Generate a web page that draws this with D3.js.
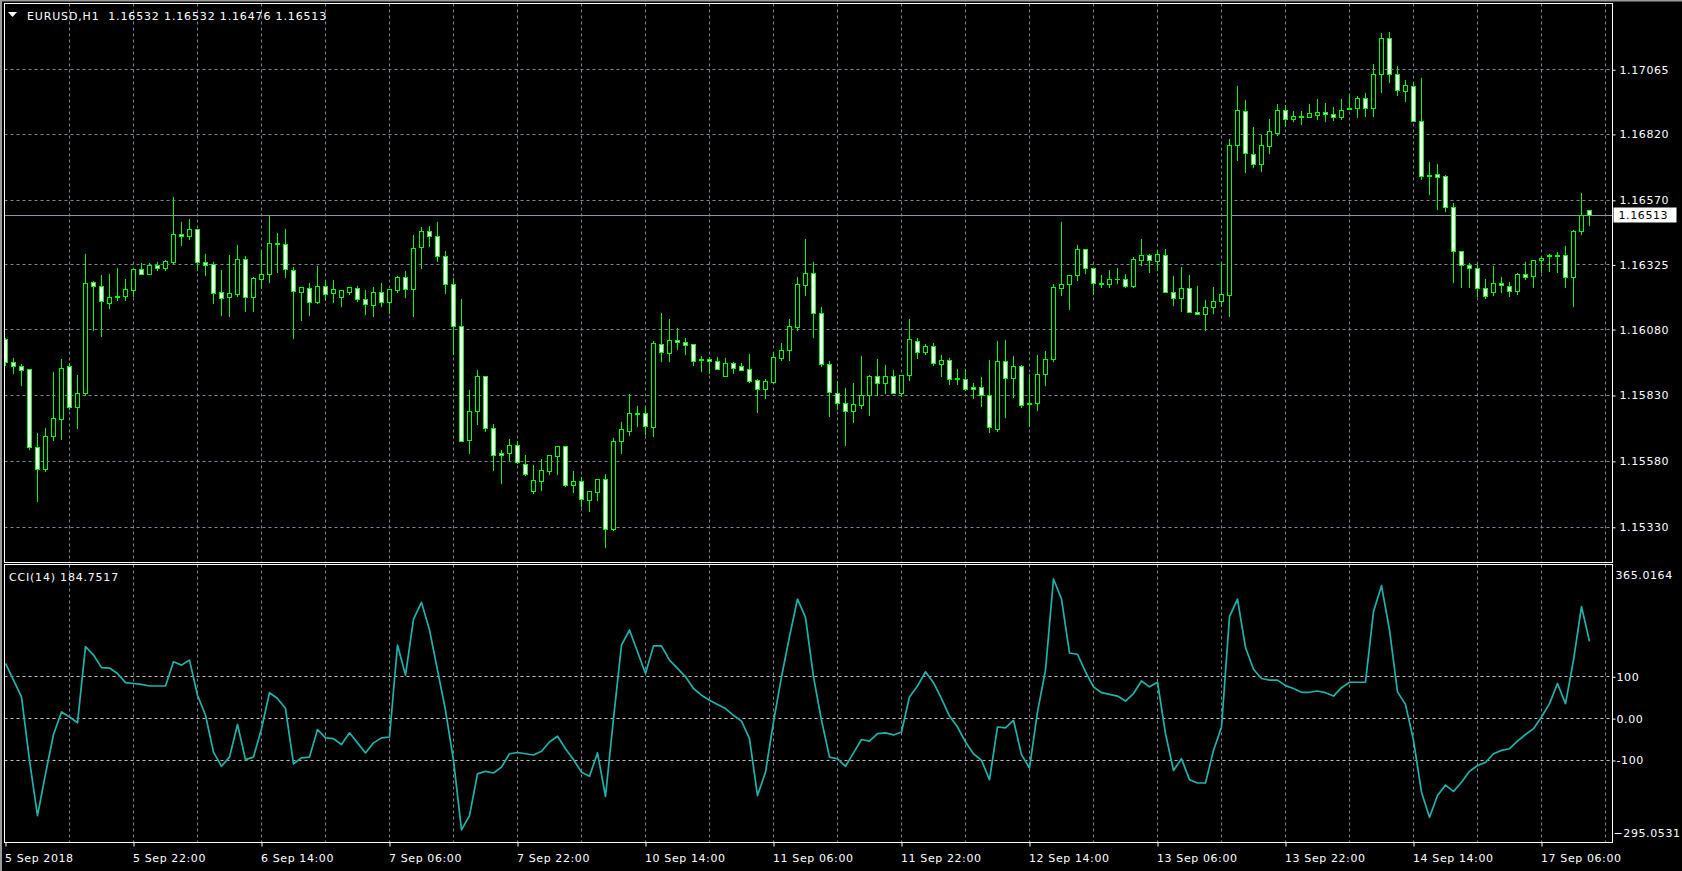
<!DOCTYPE html>
<html><head><meta charset="utf-8">
<script src="https://cdn.jsdelivr.net/npm/d3@7"></script>
<style>
body{margin:0;background:#000;overflow:hidden}
svg{display:block}
text{font-family:"DejaVu Sans",sans-serif;font-size:11px;letter-spacing:0.6px;fill:#fff}
</style>
</head><body>
<svg id="c" width="1682" height="871"></svg>
<script>
const symbol = "EURUSD,H1";
const open = [
1.16044,1.15955,1.15938,1.15927,1.15631,1.15550,1.15675,1.15739,1.15938,1.15785,
1.15839,1.16260,1.16245,1.16179,1.16202,1.16206,1.16228,1.16306,1.16289,1.16322,
1.16312,1.16334,1.16442,1.16433,1.16461,1.16334,1.16325,1.16222,1.16202,1.16213,
1.16347,1.16202,1.16270,1.16289,1.16408,1.16404,1.16302,1.16221,1.16237,1.16183,
1.16245,1.16215,1.16203,1.16221,1.16235,1.16193,1.16171,1.16222,1.16183,1.16228,
1.16279,1.16232,1.16391,1.16450,1.16431,1.16355,1.16249,1.16090,1.15661,1.15771,
1.15900,1.15703,1.15609,1.15608,1.15639,1.15567,1.15464,1.15504,1.15542,1.15599,
1.15635,1.15489,1.15502,1.15432,1.15463,1.15510,1.15320,1.15654,1.15695,1.15760,
1.15760,1.15709,1.16025,1.15989,1.16040,1.16029,1.16025,1.15966,1.15965,1.15957,
1.15902,1.15953,1.15938,1.15927,1.15885,1.15852,1.15878,1.15969,1.16001,1.16088,
1.16247,1.16294,1.16139,1.15949,1.15838,1.15801,1.15771,1.15792,1.15830,1.15900,
1.15874,1.15900,1.15839,1.15904,1.16036,1.15993,1.16014,1.15948,1.15964,1.15896,
1.15889,1.15862,1.15862,1.15828,1.15701,1.15957,1.15896,1.15938,1.15798,1.15798,
1.15911,1.15967,1.16237,1.16249,1.16283,1.16382,1.16313,1.16256,1.16252,1.16268,
1.16268,1.16243,1.16343,1.16362,1.16338,1.16362,1.16221,1.16196,1.16237,1.16146,
1.16137,1.16164,1.16187,1.16209,1.16777,1.16908,1.16745,1.16706,1.16774,1.16823,
1.16912,1.16878,1.16889,1.16885,1.16893,1.16904,1.16897,1.16884,1.16916,1.16918,
1.16957,1.16918,1.17047,1.17185,1.17048,1.16984,1.17003,1.16870,1.16663,1.16666,
1.16662,1.16544,1.16374,1.16323,1.16313,1.16237,1.16221,1.16256,1.16245,1.16224,
1.16289,1.16281,1.16342,1.16355,1.16355,1.16362,1.16278,1.16452,1.16532];
const high = [
1.16049,1.15972,1.15949,1.15927,1.15688,1.15707,1.15920,1.15968,1.15953,1.15909,
1.16367,1.16265,1.16288,1.16292,1.16315,1.16273,1.16307,1.16332,1.16332,1.16336,
1.16343,1.16583,1.16489,1.16499,1.16461,1.16367,1.16336,1.16307,1.16362,1.16401,
1.16359,1.16279,1.16382,1.16509,1.16446,1.16462,1.16317,1.16243,1.16256,1.16322,
1.16268,1.16269,1.16231,1.16243,1.16246,1.16231,1.16242,1.16257,1.16231,1.16284,
1.16303,1.16439,1.16470,1.16473,1.16489,1.16379,1.16275,1.16197,1.15852,1.15928,
1.15900,1.15723,1.15624,1.15665,1.15659,1.15606,1.15568,1.15590,1.15601,1.15635,
1.15635,1.15545,1.15520,1.15464,1.15510,1.15534,1.15669,1.15729,1.15837,1.15791,
1.15789,1.16036,1.16143,1.16120,1.16086,1.16048,1.16025,1.15981,1.15976,1.15976,
1.15972,1.15958,1.15954,1.15988,1.15892,1.15892,1.15995,1.16029,1.16120,1.16279,
1.16423,1.16336,1.16166,1.15962,1.15886,1.15859,1.15878,1.15981,1.15908,1.15969,
1.15947,1.15928,1.15904,1.16121,1.16049,1.16026,1.16030,1.15985,1.15972,1.15931,
1.15931,1.15878,1.15901,1.15964,1.16038,1.16041,1.15981,1.15947,1.15913,1.15985,
1.16000,1.16251,1.16489,1.16283,1.16401,1.16387,1.16313,1.16288,1.16304,1.16315,
1.16292,1.16355,1.16424,1.16366,1.16382,1.16386,1.16284,1.16318,1.16288,1.16246,
1.16193,1.16243,1.16336,1.16803,1.17004,1.16951,1.16849,1.16816,1.16879,1.16936,
1.16932,1.16909,1.16909,1.16936,1.16955,1.16940,1.16923,1.16955,1.16974,1.16964,
1.16978,1.17087,1.17204,1.17208,1.17080,1.17026,1.17018,1.17033,1.16716,1.16708,
1.16667,1.16561,1.16374,1.16331,1.16334,1.16273,1.16322,1.16280,1.16261,1.16294,
1.16336,1.16343,1.16359,1.16366,1.16374,1.16397,1.16458,1.16599,1.16532];
const low = [
1.15947,1.15917,1.15868,1.15627,1.15429,1.15545,1.15660,1.15666,1.15779,1.15708,
1.15830,1.16079,1.16054,1.16163,1.16193,1.16193,1.16206,1.16290,1.16289,1.16304,
1.16307,1.16331,1.16399,1.16424,1.16304,1.16288,1.16182,1.16136,1.16130,1.16206,
1.16151,1.16151,1.16237,1.16262,1.16300,1.16278,1.16046,1.16117,1.16134,1.16179,
1.16193,1.16183,1.16168,1.16213,1.16187,1.16137,1.16130,1.16171,1.16141,1.16224,
1.16204,1.16130,1.16315,1.16395,1.16338,1.16217,1.15988,1.15657,1.15610,1.15720,
1.15694,1.15546,1.15497,1.15583,1.15574,1.15529,1.15460,1.15470,1.15534,1.15534,
1.15485,1.15463,1.15410,1.15391,1.15432,1.15254,1.15320,1.15610,1.15681,1.15713,
1.15685,1.15675,1.15962,1.15962,1.16007,1.15988,1.15947,1.15924,1.15915,1.15929,
1.15902,1.15916,1.15925,1.15880,1.15766,1.15822,1.15878,1.15964,1.15964,1.16077,
1.16212,1.16050,1.15943,1.15751,1.15779,1.15643,1.15728,1.15781,1.15754,1.15833,
1.15838,1.15838,1.15827,1.15890,1.15971,1.15986,1.15944,1.15902,1.15872,1.15872,
1.15851,1.15819,1.15789,1.15692,1.15694,1.15747,1.15823,1.15785,1.15713,1.15773,
1.15868,1.15962,1.16209,1.16156,1.16269,1.16296,1.16213,1.16243,1.16240,1.16256,
1.16243,1.16240,1.16323,1.16300,1.16304,1.16221,1.16174,1.16151,1.16145,1.16137,
1.16079,1.16143,1.16168,1.16132,1.16721,1.16678,1.16697,1.16682,1.16750,1.16818,
1.16850,1.16871,1.16861,1.16885,1.16879,1.16869,1.16876,1.16879,1.16916,1.16884,
1.16891,1.16891,1.16979,1.17020,1.16971,1.16945,1.16869,1.16649,1.16592,1.16538,
1.16531,1.16262,1.16242,1.16240,1.16208,1.16198,1.16212,1.16224,1.16208,1.16216,
1.16273,1.16242,1.16299,1.16303,1.16299,1.16243,1.16170,1.16444,1.16476];
const close = [
1.15955,1.15938,1.15923,1.15633,1.15548,1.15676,1.15741,1.15934,1.15784,1.15839,
1.16256,1.16243,1.16187,1.16203,1.16207,1.16230,1.16306,1.16290,1.16321,1.16313,
1.16337,1.16442,1.16433,1.16461,1.16334,1.16323,1.16217,1.16198,1.16215,1.16347,
1.16202,1.16275,1.16290,1.16408,1.16404,1.16306,1.16226,1.16238,1.16184,1.16245,
1.16211,1.16230,1.16227,1.16238,1.16192,1.16173,1.16222,1.16184,1.16231,1.16279,
1.16232,1.16389,1.16450,1.16431,1.16355,1.16249,1.16090,1.15657,1.15771,1.15900,
1.15703,1.15604,1.15604,1.15639,1.15574,1.15529,1.15506,1.15544,1.15601,1.15635,
1.15489,1.15502,1.15434,1.15464,1.15510,1.15320,1.15654,1.15699,1.15760,1.15757,
1.15711,1.16026,1.15991,1.16040,1.16029,1.16020,1.15959,1.15963,1.15957,1.15929,
1.15953,1.15933,1.15925,1.15882,1.15852,1.15881,1.15972,1.16002,1.16090,1.16249,
1.16294,1.16139,1.15949,1.15843,1.15801,1.15771,1.15794,1.15828,1.15900,1.15874,
1.15900,1.15839,1.15904,1.16044,1.15991,1.16014,1.15953,1.15964,1.15892,1.15889,
1.15851,1.15851,1.15828,1.15707,1.15957,1.15896,1.15938,1.15792,1.15794,1.15911,
1.15968,1.16238,1.16249,1.16283,1.16382,1.16313,1.16256,1.16252,1.16268,1.16271,
1.16243,1.16345,1.16362,1.16343,1.16366,1.16221,1.16196,1.16237,1.16145,1.16137,
1.16165,1.16188,1.16211,1.16776,1.16912,1.16749,1.16706,1.16776,1.16829,1.16912,
1.16878,1.16889,1.16885,1.16901,1.16904,1.16897,1.16885,1.16912,1.16920,1.16957,
1.16918,1.17048,1.17185,1.17048,1.16986,1.17004,1.16869,1.16662,1.16660,1.16658,
1.16544,1.16374,1.16323,1.16313,1.16237,1.16206,1.16256,1.16247,1.16224,1.16287,
1.16279,1.16343,1.16351,1.16359,1.16362,1.16278,1.16450,1.16514,1.16513];
const cci = [
132,92,52,-100,-232,-132,-38,16,4,-10,
172,152,122,121,108,86,84,82,78,78,
78,136,128,140,56,8,-80,-114,-92,-14,
-98,-92,-24,62,48,24,-108,-94,-92,-26,
-46,-48,-62,-34,-58,-82,-58,-46,-44,176,
104,238,278,212,116,20,-100,-266,-232,-132,
-126,-130,-116,-84,-81,-84,-87,-78,-56,-42,
-72,-98,-128,-138,-82,-186,0,176,212,160,
108,174,174,140,120,100,72,56,44,34,
24,8,-6,-48,-184,-128,-8,100,196,286,
242,100,-4,-92,-96,-114,-82,-50,-54,-36,
-34,-39,-32,52,78,112,86,48,6,-20,
-56,-84,-100,-146,-20,-22,-4,-86,-118,16,
116,334,286,157,154,112,76,62,58,54,
42,60,90,76,87,-36,-124,-96,-146,-154,
-154,-76,-20,244,286,170,118,96,92,92,
79,72,63,63,66,62,54,74,87,87,
87,256,318,212,64,34,-52,-176,-236,-184,
-159,-174,-152,-126,-112,-105,-84,-76,-72,-54,
-38,-24,4,36,84,36,140,268,184.7517];

const priceTicks = [1.17065,1.16820,1.16570,1.16325,1.16080,1.15830,1.15580,1.15330];
const dateTickBars = [0,16,32,48,64,80,96,112,128,144,160,176,192];
const dateTickLabels = ["5 Sep 2018","5 Sep 22:00","6 Sep 14:00","7 Sep 06:00","7 Sep 22:00","10 Sep 14:00","11 Sep 06:00","11 Sep 22:00","12 Sep 14:00","13 Sep 06:00","13 Sep 22:00","14 Sep 14:00","17 Sep 06:00"];
const cciLevels = [100,0,-100];
const cciLevelLabels = ["100","0.00","-100"];
const cciRange = [-295.0531,365.0164];
const cciPeriod = 14;

// ---------- layout ----------
const PL = 4.5, PR = 1612.5;
const PT = 3.5, PB = 562.5;     // price panel
const CT = 564.5, CB = 842.5;   // CCI panel
const GREEN = "#00ff00", GRID = "#778899";

const svg = d3.select("#c");
const xS = d3.scaleLinear().domain([0, 200]).range([5.5, 1605.5]);
const yP = d3.scaleLinear().domain([1.15330, 1.16570]).range([527.3, 200.3]);
const yC = d3.scaleLinear().domain(cciRange).range([842, 566]);
const px = v => Math.round(v - 0.5) + 0.5;

// window frame
svg.append("rect").attr("x",0).attr("y",0).attr("width",2).attr("height",871).attr("fill","#9a9a9a");
svg.append("rect").attr("x",0).attr("y",0).attr("width",1682).attr("height",1.5).attr("fill","#9a9a9a");

const defs = svg.append("defs");
defs.append("clipPath").attr("id","clipP").append("rect")
  .attr("x",PL+0.5).attr("y",PT+0.5).attr("width",PR-PL-1).attr("height",PB-PT-1);
defs.append("clipPath").attr("id","clipC").append("rect")
  .attr("x",PL+0.5).attr("y",CT+0.5).attr("width",PR-PL-1).attr("height",CB-CT-1);

// ---------- grid ----------
const gridBars = d3.range(8, 201, 8);
const gP = svg.append("g").attr("clip-path","url(#clipP)");
gP.selectAll("line.vg").data(gridBars).join("line").attr("class","vg")
  .attr("x1",d=>px(xS(d))).attr("x2",d=>px(xS(d))).attr("y1",PT).attr("y2",PB)
  .attr("stroke",GRID).attr("stroke-dasharray","3,3");
gP.selectAll("line.hg").data(priceTicks).join("line").attr("class","hg")
  .attr("x1",PL).attr("x2",PR).attr("y1",d=>px(yP(d))).attr("y2",d=>px(yP(d)))
  .attr("stroke",GRID).attr("stroke-dasharray","3,3");

const gC = svg.append("g").attr("clip-path","url(#clipC)");
gC.selectAll("line.vg").data(gridBars).join("line").attr("class","vg")
  .attr("x1",d=>px(xS(d))).attr("x2",d=>px(xS(d))).attr("y1",CT).attr("y2",CB)
  .attr("stroke",GRID).attr("stroke-dasharray","3,3");
gC.selectAll("line.lv").data(cciLevels).join("line").attr("class","lv")
  .attr("x1",PL).attr("x2",PR).attr("y1",d=>px(yC(d))).attr("y2",d=>px(yC(d)))
  .attr("stroke","#c0c0c0").attr("stroke-dasharray","3,3");

// ---------- current price line ----------
const last = close.length - 1;
gP.append("line").attr("x1",PL).attr("x2",PR)
  .attr("y1",px(yP(close[last]))).attr("y2",px(yP(close[last])))
  .attr("stroke","#8a96a4");

// ---------- candles ----------
const bars = open.map((o,i)=>({i,o,h:high[i],l:low[i],c:close[i]}));
const gCand = gP.append("g");
gCand.selectAll("line.wick").data(bars).join("line").attr("class","wick")
  .attr("x1",d=>xS(d.i)).attr("x2",d=>xS(d.i))
  .attr("y1",d=>Math.round(yP(d.h))).attr("y2",d=>Math.round(yP(d.l))+1)
  .attr("stroke",GREEN);
bars.forEach(d=>{
  const yt = px(yP(Math.max(d.o,d.c))), yb = px(yP(Math.min(d.o,d.c)));
  const cx = xS(d.i);
  if (yb - yt < 1) {
    gCand.append("line").attr("x1",cx-2.5).attr("x2",cx+2.5).attr("y1",yt).attr("y2",yt).attr("stroke",GREEN);
  } else {
    gCand.append("rect").attr("x",cx-2).attr("y",yt).attr("width",4).attr("height",yb-yt)
      .attr("fill", d.c < d.o ? "#ffffff" : "#000000").attr("stroke",GREEN);
  }
});

// ---------- CCI line ----------
gC.append("path").datum(cci)
  .attr("d", d3.line().x((d,i)=>xS(i)).y(d=>yC(d)))
  .attr("fill","none").attr("stroke","#20b2aa").attr("stroke-width",1.7)
  .attr("stroke-linejoin","round");

// ---------- panel borders ----------
svg.append("rect").attr("x",PL).attr("y",PT).attr("width",PR-PL).attr("height",PB-PT)
  .attr("fill","none").attr("stroke","#fff");
svg.append("rect").attr("x",PL).attr("y",CT).attr("width",PR-PL).attr("height",CB-CT)
  .attr("fill","none").attr("stroke","#fff");

// ---------- axes ----------
function styleAxis(g){
  g.select(".domain").remove();
  g.selectAll(".tick line").attr("stroke","#fff");
  g.selectAll(".tick text").attr("fill","#fff").style("font-family",'"DejaVu Sans",sans-serif').style("font-size","11px");
}
const axP = svg.append("g").attr("transform",`translate(${PR},0)`)
  .call(d3.axisRight(yP).tickValues(priceTicks).tickFormat(d3.format(".5f")).tickSize(3).tickPadding(4));
styleAxis(axP);

const axC = svg.append("g").attr("transform",`translate(${PR},0)`)
  .call(d3.axisRight(yC).tickValues(cciLevels).tickFormat((d,i)=>cciLevelLabels[i]).tickSize(3).tickPadding(1));
styleAxis(axC);
svg.append("text").attr("x",PR+3).attr("y",yC(cciRange[1])+9).attr("dy","0.35em").text(d3.format(".4f")(cciRange[1]));
svg.append("text").attr("x",PR+1).attr("y",yC(cciRange[0])-9).attr("dy","0.35em").text(d3.format(".4f")(cciRange[0]));

const axX = svg.append("g").attr("transform",`translate(0,${CB})`)
  .call(d3.axisBottom(xS).tickValues(dateTickBars).tickFormat((d,i)=>dateTickLabels[i]).tickSize(4).tickPadding(8));
styleAxis(axX);
axX.selectAll(".tick text").attr("text-anchor","start").attr("x",-1);

// ---------- current price label ----------
const cy = yP(close[last]);
svg.append("rect").attr("x",PR+1).attr("y",Math.round(cy)-7.5).attr("width",63).attr("height",15).attr("fill","#fff");
svg.append("text").attr("x",PR+6).attr("y",cy).attr("dy","0.35em").style("fill","#000")
  .text(d3.format(".5f")(close[last]));

// ---------- titles ----------
svg.append("path").attr("d","M8,12L17,12L12.5,17Z").attr("fill","#fff");
const f5 = d3.format(".5f");
svg.append("text").attr("x",27).attr("y",16.5).attr("dy","0.35em").style("white-space","pre").style("letter-spacing","0.85px")
  .text(`${symbol}  ${f5(open[last])} ${f5(high[last])} ${f5(low[last])} ${f5(close[last])}`);
svg.append("text").attr("x",9).attr("y",577).attr("dy","0.35em").style("letter-spacing","0.8px")
  .text(`CCI(${cciPeriod}) ${d3.format(".4f")(cci[last])}`);
</script>
</body></html>
